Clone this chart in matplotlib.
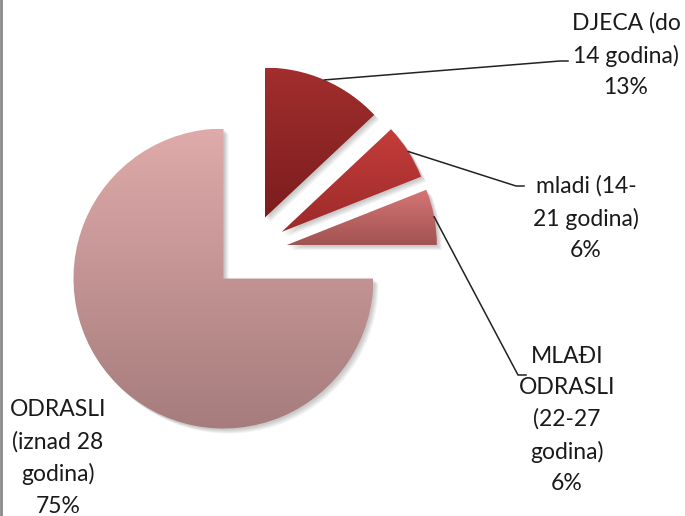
import numpy as np
import matplotlib.pyplot as plt
from matplotlib.patches import Wedge
from matplotlib.colors import LinearSegmentedColormap

# data
labels = ['DJECA (do\n14 godina)', 'mladi (14-\n21 godina)',
          'MLAĐI\nODRASLI\n(22-27\ngodina)', 'ODRASLI\n(iznad 28\ngodina)']
values = [13, 6, 6, 75]

# vertical gradient per slice (top colour, bottom colour)
top_colors = ['#a22e2d', '#c43d3b', '#d67676', '#dfaaaa']
bottom_colors = ['#7b1d1e', '#9c2a2a', '#a25252', '#a67c7c']

# label block centres (pixels, image coords) and leader line end points
label_pos = [(626, 55), (586, 218), (567, 420), (58, 458)]
leader_end = [(560, 61), (516, 186), (518, 375), None]

W, H = 685, 516
fig = plt.figure(figsize=(W / 100, H / 100), dpi=100)
ax = fig.add_axes([0, 0, 1, 1])

center = (250, H - 252)
radius = 150
# explode is in data units here (pixels)
wedges, _ = ax.pie(values, center=center, radius=radius, startangle=90,
                   counterclock=False, explode=[0.25 * radius] * 4, frame=True,
                   wedgeprops=dict(linewidth=0, edgecolor='none'))

ax.set_xlim(0, W)
ax.set_ylim(0, H)
ax.set_aspect('equal')
ax.axis('off')

for i, w in enumerate(wedges):
    # soft shadow
    for k in range(5):
        off = 1.5 + k * 0.9
        sh = Wedge((w.center[0] + off, w.center[1] - off), w.r, w.theta1, w.theta2,
                   facecolor='black', edgecolor='none', alpha=0.045, zorder=0)
        ax.add_patch(sh)
    # gradient fill clipped to the wedge
    ext = w.get_path().get_extents()
    cmap = LinearSegmentedColormap.from_list('g%d' % i, [top_colors[i], bottom_colors[i]])
    grad = np.linspace(0, 1, 256).reshape(-1, 1)
    im = ax.imshow(grad, cmap=cmap, aspect='auto', origin='upper',
                   extent=(ext.x0, ext.x1, ext.y0, ext.y1), zorder=2,
                   interpolation='bilinear')
    im.set_clip_path(w)
    w.set_facecolor('none')

ax.set_xlim(0, W)
ax.set_ylim(0, H)

for i, w in enumerate(wedges):
    txt = labels[i] + '\n' + '%d%%' % values[i]
    lx, ly = label_pos[i]
    ax.text(lx, H - ly, txt, ha='center', va='center', multialignment='center',
            fontsize=16.5, family='Lato', color='#1a1a1a', linespacing=1.6, zorder=5)
    if leader_end[i] is not None:
        mid = np.deg2rad((w.theta1 + w.theta2) / 2)
        sx = w.center[0] + w.r * np.cos(mid)
        sy = w.center[1] + w.r * np.sin(mid)
        ex, ey = leader_end[i]
        ax.plot([sx, ex, ex + 8], [sy, H - ey, H - ey], color='#222222', lw=1.1, zorder=4)

# chart border, only its left edge is in view
ax.plot([1.5, 1.5], [0, H], color='#8a8a8a', lw=2, zorder=6)

fig.savefig('out.png', dpi=100, facecolor='white')
